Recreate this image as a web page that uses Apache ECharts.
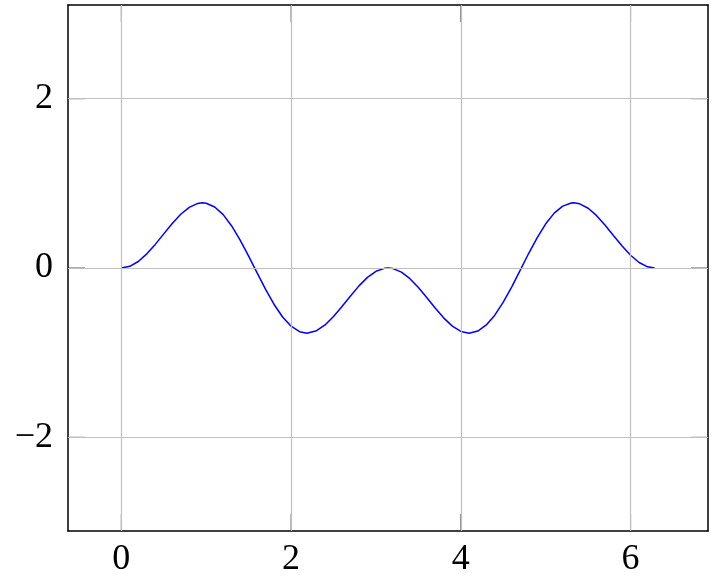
<!DOCTYPE html>
<html>
<head>
<meta charset="utf-8">
<script src="https://cdn.jsdelivr.net/npm/echarts@6/dist/echarts.min.js"></script>
<style>html,body{margin:0;padding:0;background:#fff}#c{width:714px;height:578px}</style>
</head>
<body>
<div id="c"></div>
<script>
// values
var xs = [0, 0.1, 0.2, 0.3, 0.4, 0.5, 0.6, 0.7, 0.8, 0.9, 0.955, 1.0, 1.1, 1.2, 1.3, 1.4, 1.5, 1.6, 1.7, 1.8, 1.9, 2.0, 2.1, 2.186, 2.3, 2.4, 2.5, 2.6, 2.7, 2.8, 2.9, 3.0, 3.1, 3.142, 3.2, 3.3, 3.4, 3.5, 3.6, 3.7, 3.8, 3.9, 4.0, 4.097, 4.2, 4.3, 4.4, 4.5, 4.6, 4.7, 4.8, 4.9, 5.0, 5.1, 5.2, 5.3, 5.328, 5.4, 5.5, 5.6, 5.7, 5.8, 5.9, 6.0, 6.1, 6.2, 6.283];
var ys = [0, 0.020, 0.077, 0.167, 0.279, 0.403, 0.526, 0.635, 0.717, 0.763, 0.770, 0.765, 0.721, 0.630, 0.497, 0.330, 0.141, -0.058, -0.253, -0.431, -0.579, -0.688, -0.752, -0.770, -0.741, -0.673, -0.574, -0.455, -0.330, -0.211, -0.111, -0.039, -0.004, 0, -0.007, -0.049, -0.126, -0.231, -0.351, -0.476, -0.592, -0.687, -0.749, -0.770, -0.745, -0.673, -0.557, -0.403, -0.222, -0.025, 0.174, 0.360, 0.522, 0.648, 0.731, 0.768, 0.770, 0.758, 0.706, 0.618, 0.506, 0.382, 0.259, 0.150, 0.065, 0.014, 0];
var xTicks = [0, 2, 4, 6];
var yTicks = [-2, 0, 2];

var xMin = -0.628, xMax = 6.912, yMin = -3.107, yMax = 3.107;
var pts = xs.map(function (x, i) { return [x, ys[i]]; });
var font = '"Liberation Serif", "DejaVu Serif", serif';

function fmt(v) { return v < 0 ? '\u2212' + Math.abs(v) : String(v); }

function tickSeries(data, size, offset) {
  return {
    type: 'scatter', data: data, symbol: 'rect', symbolSize: size, symbolOffset: offset,
    itemStyle: { color: '#333' }, silent: true, clip: false, z: 4
  };
}

var chart = echarts.init(document.getElementById('c'), null, { renderer: 'canvas' });
var axisLine = { show: true, onZero: false, lineStyle: { color: '#000', width: 1.5 } };
chart.setOption({
  animation: false,
  grid: { left: 68, right: 6, top: 5, bottom: 47, containLabel: false },
  xAxis: [{
    type: 'value', min: xMin, max: xMax, position: 'bottom',
    axisLine: axisLine, axisTick: { show: false },
    axisLabel: { show: true, customValues: xTicks, formatter: fmt, color: '#000', fontSize: 36, fontFamily: font, margin: 11 },
    splitLine: { show: false }
  }, {
    type: 'value', min: xMin, max: xMax, position: 'top',
    axisLine: axisLine, axisTick: { show: false }, axisLabel: { show: false }, splitLine: { show: false }
  }],
  yAxis: [{
    type: 'value', min: yMin, max: yMax, position: 'left',
    axisLine: axisLine, axisTick: { show: false },
    axisLabel: { show: true, customValues: yTicks, formatter: fmt, color: '#000', fontSize: 36, fontFamily: font, margin: 15 },
    splitLine: { show: false }
  }, {
    type: 'value', min: yMin, max: yMax, position: 'right',
    axisLine: axisLine, axisTick: { show: false }, axisLabel: { show: false }, splitLine: { show: false }
  }],
  series: [{
    type: 'line', data: pts, smooth: false, symbol: 'none',
    lineStyle: { color: '#0000ff', width: 1.5 },
    markLine: {
      silent: true, symbol: 'none', label: { show: false },
      lineStyle: { color: '#c0c0c0', width: 1.2, type: 'solid' },
      data: xTicks.map(function (v) { return { xAxis: v }; }).concat(yTicks.map(function (v) { return { yAxis: v }; }))
    },
    z: 3
  },
  tickSeries(xTicks.map(function (v) { return [v, yMin]; }), [1, 17], [0, -8.5]),
  tickSeries(xTicks.map(function (v) { return [v, yMax]; }), [1, 17], [0, 8.5]),
  tickSeries(yTicks.map(function (v) { return [xMin, v]; }), [17, 1], [8.5, 0]),
  tickSeries(yTicks.map(function (v) { return [xMax, v]; }), [17, 1], [-8.5, 0])
  ]
});
</script>
</body>
</html>
